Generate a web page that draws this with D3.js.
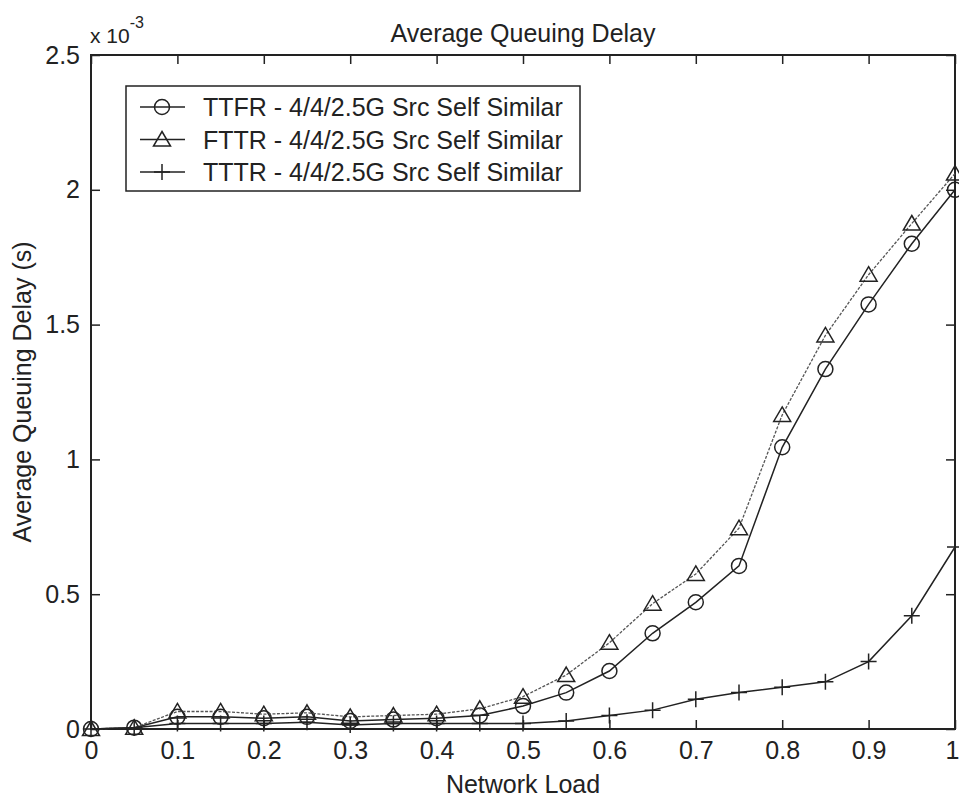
<!DOCTYPE html>
<html>
<head>
<meta charset="utf-8">
<script src="https://cdn.jsdelivr.net/npm/d3@7"></script>
<style>
  body { margin: 0; background: #fff; }
  svg text { font-family: "Liberation Sans", Arial, sans-serif; fill: #222; }
</style>
</head>
<body>
<div id="chart"></div>
<script>
// Network load (x) and average queuing delay in units of 1e-3 s
const load = [0, 0.05, 0.1, 0.15, 0.2, 0.25, 0.3, 0.35, 0.4, 0.45, 0.5,
              0.55, 0.6, 0.65, 0.7, 0.75, 0.8, 0.85, 0.9, 0.95, 1];
const ttfr = [0, 0.005, 0.045, 0.045, 0.04, 0.045, 0.03, 0.035, 0.04, 0.05, 0.085,
              0.135, 0.215, 0.355, 0.47, 0.605, 1.045, 1.335, 1.575, 1.8, 2.0];
const fttr = [0, 0.005, 0.065, 0.065, 0.055, 0.06, 0.045, 0.05, 0.055, 0.075, 0.12,
              0.2, 0.32, 0.465, 0.575, 0.745, 1.165, 1.46, 1.685, 1.875, 2.06];
const tttr = [0, 0.005, 0.02, 0.02, 0.02, 0.025, 0.015, 0.02, 0.02, 0.02, 0.02,
              0.03, 0.05, 0.07, 0.11, 0.135, 0.155, 0.175, 0.25, 0.42, 0.675];
const seriesNames = ["TTFR - 4/4/2.5G Src Self Similar",
                     "FTTR - 4/4/2.5G Src Self Similar",
                     "TTTR - 4/4/2.5G Src Self Similar"];
const xTicks = [0, 0.1, 0.2, 0.3, 0.4, 0.5, 0.6, 0.7, 0.8, 0.9, 1];
const yTicks = [0, 0.5, 1, 1.5, 2, 2.5];

const width = 959, height = 799;
const margin = {top: 55, right: 4, bottom: 70, left: 91};
const ink = "#222";

const x = d3.scaleLinear().domain([0, 1]).range([margin.left, width - margin.right]);
const y = d3.scaleLinear().domain([0, 2.5]).range([height - margin.bottom, margin.top]);

const svg = d3.create("svg")
    .attr("width", width)
    .attr("height", height);

const fmt = d3.format("~g");

// bottom axis with labels, ticks pointing inward
svg.append("g")
    .attr("transform", `translate(0,${y(0)})`)
    .call(d3.axisBottom(x).tickValues(xTicks).tickFormat(fmt)
        .tickSizeInner(-9).tickSizeOuter(0).tickPadding(12))
    .call(g => g.select(".domain").remove())
    .call(g => g.selectAll("line").attr("stroke", ink).attr("stroke-width", 1.5))
    .call(g => g.selectAll("text").attr("font-size", 25).attr("fill", ink))
    // the last label sits on the page edge, keep it inside
    .call(g => g.selectAll("text").filter(d => d === 1)
        .attr("text-anchor", "end").attr("x", 4));

// top axis, ticks only
svg.append("g")
    .attr("transform", `translate(0,${y(2.5)})`)
    .call(d3.axisTop(x).tickValues(xTicks).tickFormat("")
        .tickSizeInner(-9).tickSizeOuter(0))
    .call(g => g.select(".domain").remove())
    .call(g => g.selectAll("line").attr("stroke", ink).attr("stroke-width", 1.5));

// left axis with labels
svg.append("g")
    .attr("transform", `translate(${x(0)},0)`)
    .call(d3.axisLeft(y).tickValues(yTicks).tickFormat(fmt)
        .tickSizeInner(-9).tickSizeOuter(0).tickPadding(11))
    .call(g => g.select(".domain").remove())
    .call(g => g.selectAll("line").attr("stroke", ink).attr("stroke-width", 1.5))
    .call(g => g.selectAll("text").attr("font-size", 25).attr("fill", ink));

// right axis, ticks only
svg.append("g")
    .attr("transform", `translate(${x(1)},0)`)
    .call(d3.axisRight(y).tickValues(yTicks).tickFormat("")
        .tickSizeInner(-9).tickSizeOuter(0))
    .call(g => g.select(".domain").remove())
    .call(g => g.selectAll("line").attr("stroke", ink).attr("stroke-width", 1.5));

// frame
svg.append("rect")
    .attr("x", x(0)).attr("y", y(2.5))
    .attr("width", x(1) - x(0)).attr("height", y(0) - y(2.5))
    .attr("fill", "none").attr("stroke", ink).attr("stroke-width", 2);

// markers
function marker(g, kind) {
    if (kind === "circle") {
        g.append("circle").attr("r", 7.5)
            .attr("fill", "none").attr("stroke", ink).attr("stroke-width", 1.5);
    } else if (kind === "triangle") {
        g.append("path").attr("d", "M0,-8L8.5,6.5L-8.5,6.5Z")
            .attr("fill", "none").attr("stroke", ink).attr("stroke-width", 1.5);
    } else {
        g.append("path").attr("d", "M-8,0H8M0,-8V8")
            .attr("fill", "none").attr("stroke", ink).attr("stroke-width", 1.5);
    }
}

const series = [
    {name: seriesNames[0], values: ttfr, kind: "circle", color: ink, w: 1.5, dash: null},
    {name: seriesNames[1], values: fttr, kind: "triangle", color: "#555", w: 1.3, dash: "3,1.5"},
    {name: seriesNames[2], values: tttr, kind: "plus", color: ink, w: 1.5, dash: null}
];

const line = d3.line().x(d => x(d[0])).y(d => y(d[1]));

series.forEach(s => {
    const pts = load.map((l, i) => [l, s.values[i]]);
    svg.append("path")
        .datum(pts)
        .attr("d", line)
        .attr("fill", "none")
        .attr("stroke", s.color)
        .attr("stroke-width", s.w)
        .attr("stroke-dasharray", s.dash);
    svg.append("g").selectAll("g")
        .data(pts)
        .join("g")
        .attr("transform", d => `translate(${x(d[0])},${y(d[1])})`)
        .each(function () { marker(d3.select(this), s.kind); });
});

// title and axis labels
svg.append("text")
    .attr("x", (x(0) + x(1)) / 2).attr("y", 42)
    .attr("text-anchor", "middle").attr("font-size", 25)
    .text("Average Queuing Delay");

svg.append("text")
    .attr("x", (x(0) + x(1)) / 2).attr("y", 793)
    .attr("text-anchor", "middle").attr("font-size", 25)
    .text("Network Load");

svg.append("text")
    .attr("transform", `translate(31,${(y(0) + y(2.5)) / 2}) rotate(-90)`)
    .attr("text-anchor", "middle").attr("font-size", 25)
    .text("Average Queuing Delay (s)");

// exponent
const exp = svg.append("text").attr("x", 90).attr("y", 43).attr("font-size", 21);
exp.append("tspan").text("x 10");
exp.append("tspan").attr("font-size", 16).attr("dy", -15).text("-3");

// legend
const lg = svg.append("g");
lg.append("rect")
    .attr("x", 126).attr("y", 86).attr("width", 454).attr("height", 105)
    .attr("fill", "#fff").attr("stroke", ink).attr("stroke-width", 1.5);
series.forEach((s, i) => {
    const cy = 107 + i * 32.5;
    const row = lg.append("g").attr("transform", `translate(0,${cy})`);
    row.append("line").attr("x1", 140).attr("x2", 185)
        .attr("stroke", ink).attr("stroke-width", 1.5);
    const m = row.append("g").attr("transform", "translate(162,0)");
    marker(m, s.kind);
    row.append("text").attr("x", 203).attr("y", 9).attr("font-size", 25).text(s.name);
});

document.getElementById("chart").appendChild(svg.node());
</script>
</body>
</html>
